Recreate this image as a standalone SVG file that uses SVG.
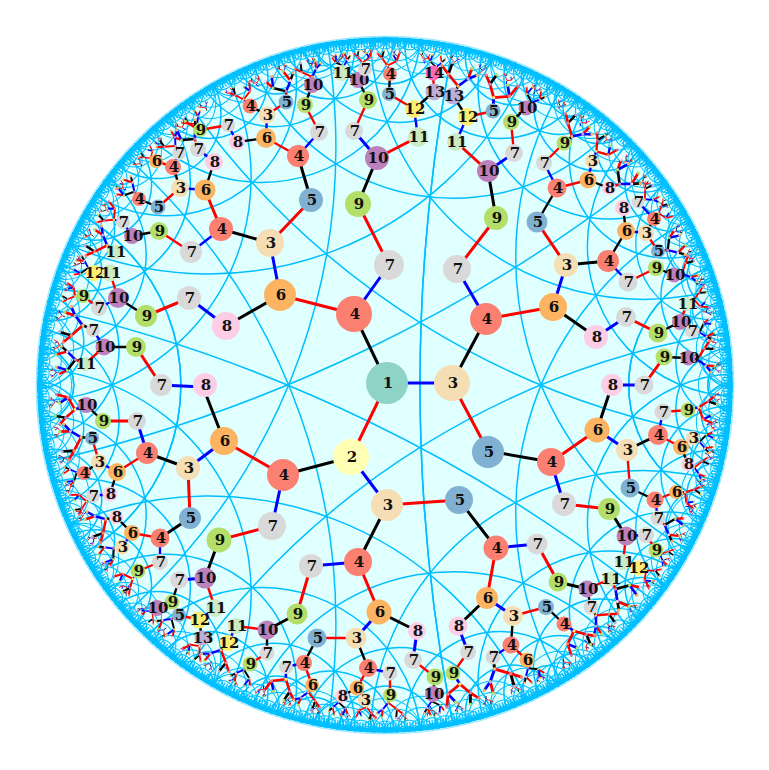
<svg xmlns="http://www.w3.org/2000/svg" width="769" height="770" viewBox="0 0 769 770">
<style>
.g{fill:none;stroke:#00bfff;stroke-width:1.5}
.fan{fill:none;stroke:#00bfff;stroke-width:1}
.k,.r,.b{fill:none;stroke-width:3}
.s{stroke-width:2.4}
.k{stroke:#000}.r{stroke:#f00}.b{stroke:#00f}
text{font-family:"DejaVu Serif","Liberation Serif",serif;font-weight:bold;font-size:15px;text-anchor:middle;fill:#111;transform:translate(1px,.5px)}
.c1{fill:#8dd3c7}.c2{fill:#ffffb3}.c3{fill:#f5deb3}.c4{fill:#fb8072}.c5{fill:#80b1d3}.c6{fill:#fdb462}.c7{fill:#d9d9d9}.c8{fill:#fccde5}.c9{fill:#b3de69}.c10{fill:#bc80bd}.c11{fill:#ccebc5}.c12{fill:#ffed6f}.c13{fill:#bcaed4}.c14{fill:#ff69b4}
.t{stroke-width:2;fill:none}
.d{stroke-linecap:round;stroke-width:2.4;fill:none}
</style>
<defs>
<clipPath id="disc"><circle r="348"/></clipPath>
<g id="blk4">
<circle cx="348.85" r="24.33"/>
<circle cx="348.2" r="12.15"/><circle cx="348.2" r="12.15" transform="rotate(2)"/>
<circle cx="348.05" r="6.07"/><circle cx="348.05" r="6.07" transform="rotate(1)"/><circle cx="348.05" r="6.07" transform="rotate(2)"/><circle cx="348.05" r="6.07" transform="rotate(3)"/>
</g>
<g id="blk12">
<circle cx="349.9" r="36.6"/><circle cx="349.9" r="36.6" transform="rotate(6)"/>
<use href="#blk4"/><use href="#blk4" transform="rotate(4)"/><use href="#blk4" transform="rotate(8)"/>
</g>
<g id="blk60"><use href="#blk12"/><use href="#blk12" transform="rotate(12)"/><use href="#blk12" transform="rotate(24)"/><use href="#blk12" transform="rotate(36)"/><use href="#blk12" transform="rotate(48)"/></g>
<g id="t1" transform="scale(.78)">
<path class="r t" d="M0 0L8 3M14-6L21-10M15 9L24 6"/>
<path class="k t" d="M8 3L14-6M15 9L20 13"/>
<path class="b t" d="M8 3L15 9M14-6L23-4"/>
<path class="d" stroke="#bc80bd" d="M8 3h0"/><path class="d" stroke="#b3de69" d="M14-6h0M24 6h0"/><path class="d" stroke="#fccde5" d="M15 9h0M21-10h0"/><path class="d" stroke="#fdb462" d="M23-4h0M20 13h0"/>
</g>
<g id="t2" transform="scale(.78)">
<path class="b t" d="M0 0L9-3M14 7L21 3"/>
<path class="r t" d="M9-3L17-9M9-3L14 7M17-9L22-14M14 7L23 10"/>
<path class="k t" d="M17-9L25-7"/>
<path class="d" stroke="#ffed6f" d="M9-3h0"/><path class="d" stroke="#bc80bd" d="M17-9h0M23 10h0"/><path class="d" stroke="#fb8072" d="M14 7h0M22-14h0"/><path class="d" stroke="#b3de69" d="M25-7h0M21 3h0"/>
</g>
<g id="t3" transform="scale(.78)">
<path class="k t" d="M0 0L8 2M15-7L24-6"/>
<path class="r t" d="M8 2L15-7M15 8L23 9M15-7L20-13"/>
<path class="b t" d="M8 2L15 8M15 8L19 14"/>
<path class="d" stroke="#fdb462" d="M8 2h0M19 14h0"/><path class="d" stroke="#fb8072" d="M15-7h0M20-13h0"/><path class="d" stroke="#bcaed4" d="M15 8h0M24-6h0"/><path class="d" stroke="#b3de69" d="M23 9h0"/>
</g>
<g id="t15"><use href="#t1" transform="translate(326 0) scale(.5)"/><use href="#t2" transform="rotate(5) translate(324 0) scale(.55)"/><use href="#t3" transform="rotate(10) translate(327 0) scale(.5)"/></g>
</defs>
<g transform="translate(385 385)" id="disc-group">
<circle r="349.5" fill="#e0ffff"/>
<g clip-path="url(#disc)">
<g id="geodesics-up" class="g">
<circle cx="1792" r="1757"/>
<circle cx="1547" r="1507" transform="rotate(-115.8)"/>
<circle cx="713" r="623" transform="rotate(-160.5)"/>
<circle cx="883.5" r="812" transform="rotate(-58.12)"/>
<circle cx="483" r="335" transform="rotate(-15.36)"/>
<circle cx="443" r="274" transform="rotate(-54.27)"/>
<circle cx="494" r="350.4" transform="rotate(-110.9)"/>
<circle cx="410" r="217.5" transform="rotate(-80.39)"/>
<circle cx="414" r="224.3" transform="rotate(-149.9)"/>
<circle cx="399" r="194.9" transform="rotate(-180)"/>
<circle cx="383" r="160" transform="rotate(-108.81)"/>
<circle cx="372" r="131" transform="rotate(-126.16)"/>
<circle cx="361.7" r="98.7" transform="rotate(-158.93)"/>
<circle cx="364.6" r="108.7" transform="rotate(-146.3)"/>
<circle cx="360" r="92.3" transform="rotate(-185.63)"/>
<circle cx="353.7" r="63.3" transform="rotate(-98.86)"/>
<circle cx="361.8" r="98.9" transform="rotate(-87.74)"/>
<circle cx="357.4" r="81.3" transform="rotate(-108.15)"/>
<circle cx="353.8" r="64" transform="rotate(-130.14)"/>
<circle cx="353" r="59.1" transform="rotate(-119.95)"/>
<circle cx="351.5" r="49.3" transform="rotate(-161.14)"/>
<circle cx="350.7" r="43.5" transform="rotate(-153.54)"/>
<circle cx="352.5" r="56.1" transform="rotate(-145.24)"/>
<circle cx="351.2" r="47.2" transform="rotate(-172.86)"/>
<circle cx="350.2" r="39" transform="rotate(-180)"/>
<circle cx="351.7" r="50.6" transform="rotate(-89.51)"/>
<circle cx="349.4" r="31" transform="rotate(-96.75)"/>
<circle cx="349.3" r="29.5" transform="rotate(-101.8)"/>
<circle cx="350.6" r="42.4" transform="rotate(-107.95)"/>
<circle cx="379" r="150.2" transform="rotate(-21.52)"/>
<circle cx="370" r="126.3"/>
<circle cx="371.8" r="130.8" transform="rotate(-52.98)"/>
<circle cx="361.7" r="98.5" transform="rotate(-38.55)"/>
<circle cx="354.4" r="67.1" transform="rotate(-14.45)"/>
<circle cx="356.2" r="76" transform="rotate(-23.39)"/>
<circle cx="353.4" r="61.7" transform="rotate(3.83)"/>
<circle cx="354.5" r="67.3" transform="rotate(-52.5)"/>
<circle cx="352.4" r="55.5" transform="rotate(-60.32)"/>
<circle cx="360.9" r="95.5" transform="rotate(-71.38)"/>
<circle cx="351.2" r="47.7" transform="rotate(-34.98)"/>
<circle cx="351" r="45.9" transform="rotate(-42.8)"/>
<circle cx="349.6" r="33.6" transform="rotate(-12.81)"/>
<circle cx="349.3" r="30.1" transform="rotate(-18.06)"/>
<circle cx="350.2" r="39.5" transform="rotate(-23.96)"/>
<circle cx="349.5" r="31.9" transform="rotate(-4.83)"/>
<circle cx="349" r="26.3"/>
<circle cx="351.2" r="47" transform="rotate(-68.7)"/>
<circle cx="349" r="27.5" transform="rotate(-62)"/>
<circle cx="349" r="25.4" transform="rotate(-57.52)"/>
<circle cx="349.8" r="35.6" transform="rotate(-52.36)"/>
</g>
<use href="#geodesics-up" transform="scale(1 -1)"/>
<g id="rim-fan" class="fan">
<use href="#blk60"/><use href="#blk60" transform="rotate(60)"/><use href="#blk60" transform="rotate(120)"/><use href="#blk60" transform="rotate(180)"/><use href="#blk60" transform="rotate(240)"/><use href="#blk60" transform="rotate(300)"/>
</g>
<circle r="341" fill="none" stroke="#00bfff" stroke-width="6" stroke-dasharray="1.2 1.6"/>
<circle r="345.5" fill="none" stroke="#00bfff" stroke-width="5"/>
</g>
<circle r="348.7" fill="none" stroke="#9fe6ff" stroke-width="1.2"/>
<g id="rim-trees-fine">
<use href="#t15" transform="rotate(2)"/><use href="#t15" transform="rotate(17)"/><use href="#t15" transform="rotate(32)"/><use href="#t15" transform="rotate(47)"/><use href="#t15" transform="rotate(62)"/><use href="#t15" transform="rotate(77)"/><use href="#t15" transform="rotate(92)"/><use href="#t15" transform="rotate(107)"/><use href="#t15" transform="rotate(122)"/><use href="#t15" transform="rotate(137)"/><use href="#t15" transform="rotate(152)"/><use href="#t15" transform="rotate(167)"/><use href="#t15" transform="rotate(182)"/><use href="#t15" transform="rotate(197)"/><use href="#t15" transform="rotate(212)"/><use href="#t15" transform="rotate(227)"/><use href="#t15" transform="rotate(242)"/><use href="#t15" transform="rotate(257)"/><use href="#t15" transform="rotate(272)"/><use href="#t15" transform="rotate(287)"/><use href="#t15" transform="rotate(302)"/><use href="#t15" transform="rotate(317)"/><use href="#t15" transform="rotate(332)"/><use href="#t15" transform="rotate(347)"/>
</g>
</g>
<g id="leaf-trees">
<use href="#t1" transform="translate(342 73) rotate(-97.8) scale(1.04)"/>
<use href="#t2" transform="translate(365 69) rotate(-93.6) scale(.96)"/>
<use href="#t3" transform="translate(312 85) rotate(-103.7) scale(1.27)"/>
<use href="#t1" transform="translate(286 102) rotate(-109.3) scale(1.6)"/>
<use href="#t2" transform="translate(250 106) rotate(-115.8) scale(1.23)"/>
<use href="#t3" transform="translate(200 130) rotate(-126) scale(1.04)"/>
<use href="#t1" transform="translate(198 149) rotate(-128.4) scale(1.58)"/>
<use href="#t3" transform="translate(179 153) rotate(-131.6) scale(1.23)"/>
<use href="#t2" transform="translate(156 161) rotate(-135.6) scale(.85)"/>
<use href="#t1" transform="translate(139 199) rotate(-142.9) scale(1.3)"/>
<use href="#t2" transform="translate(123 222) rotate(-148) scale(1.27)"/>
<use href="#t3" transform="translate(115 252) rotate(-153.8) scale(1.58)"/>
<use href="#t1" transform="translate(94 273) rotate(-159) scale(1.15)"/>
<use href="#t2" transform="translate(83 296) rotate(-163.6) scale(1.04)"/>
<use href="#t3" transform="translate(93 330) rotate(-169.3) scale(1.73)"/>
<use href="#t1" transform="translate(85 364) rotate(-176) scale(1.58)"/>
<use href="#t2" transform="translate(86 405) rotate(176) scale(1.6)"/>
<use href="#t3" transform="translate(92 438) rotate(169.7) scale(1.7)"/>
<use href="#t1" transform="translate(84 473) rotate(163.7) scale(1.08)"/>
<use href="#t2" transform="translate(93 496) rotate(159) scale(1.15)"/>
<use href="#t3" transform="translate(116 517) rotate(153.9) scale(1.6)"/>
<use href="#t1" transform="translate(122 547) rotate(148.4) scale(1.27)"/>
<use href="#t2" transform="translate(138 571) rotate(143) scale(1.27)"/>
<use href="#t3" transform="translate(157 608) rotate(135.6) scale(.88)"/>
<use href="#t1" transform="translate(179 615) rotate(131.8) scale(1.27)"/>
<use href="#t2" transform="translate(202 638) rotate(125.9) scale(1.15)"/>
<use href="#t3" transform="translate(228 643) rotate(121.3) scale(1.54)"/>
<use href="#t1" transform="translate(250 664) rotate(115.8) scale(1.23)"/>
<use href="#t2" transform="translate(286 667) rotate(109.3) scale(1.65)"/>
<use href="#t3" transform="translate(312 685) rotate(103.7) scale(1.27)"/>
<use href="#t1" transform="translate(342 696) rotate(97.9) scale(1.08)"/>
<use href="#t2" transform="translate(365 700) rotate(93.6) scale(1)"/>
<use href="#t3" transform="translate(390 695) rotate(89) scale(1.23)"/>
<use href="#t1" transform="translate(433 694) rotate(81.2) scale(1.12)"/>
<use href="#t2" transform="translate(453 673) rotate(76.7) scale(1.77)"/>
<use href="#t3" transform="translate(493 657) rotate(68.3) scale(1.88)"/>
<use href="#t1" transform="translate(527 660) rotate(62.7) scale(1.23)"/>
<use href="#t2" transform="translate(564 624) rotate(53.2) scale(1.65)"/>
<use href="#t3" transform="translate(591 607) rotate(47.1) scale(1.5)"/>
<use href="#t1" transform="translate(610 579) rotate(40.8) scale(1.73)"/>
<use href="#t2" transform="translate(638 568) rotate(35.9) scale(1.15)"/>
<use href="#t3" transform="translate(656 550) rotate(31.3) scale(.96)"/>
<use href="#t1" transform="translate(658 518) rotate(26) scale(1.46)"/>
<use href="#t2" transform="translate(676 492) rotate(20.2) scale(1.23)"/>
<use href="#t3" transform="translate(688 464) rotate(14.6) scale(1.12)"/>
<use href="#t1" transform="translate(693 438) rotate(9.8) scale(1.15)"/>
<use href="#t2" transform="translate(688 410) rotate(4.7) scale(1.46)"/>
<use href="#t3" transform="translate(688 358) rotate(-5.1) scale(1.46)"/>
<use href="#t1" transform="translate(692 331) rotate(-10) scale(1.15)"/>
<use href="#t2" transform="translate(687 304) rotate(-15) scale(1.12)"/>
<use href="#t3" transform="translate(674 275) rotate(-20.8) scale(1.27)"/>
<use href="#t1" transform="translate(658 251) rotate(-26.1) scale(1.46)"/>
<use href="#t2" transform="translate(654 219) rotate(-31.7) scale(1)"/>
<use href="#t3" transform="translate(638 202) rotate(-35.9) scale(1.15)"/>
<use href="#t1" transform="translate(609 188) rotate(-41.3) scale(1.7)"/>
<use href="#t2" transform="translate(592 161) rotate(-47.3) scale(1.42)"/>
<use href="#t3" transform="translate(564 143) rotate(-53.5) scale(1.58)"/>
<use href="#t1" transform="translate(526 108) rotate(-63) scale(1.19)"/>
<use href="#t2" transform="translate(493 111) rotate(-68.5) scale(1.8)"/>
<use href="#t3" transform="translate(453 96) rotate(-76.8) scale(1.73)"/>
<use href="#t1" transform="translate(433 73) rotate(-81.3) scale(1)"/>
<use href="#t2" transform="translate(390 74) rotate(-89) scale(1.19)"/>
</g>
<g id="connectors">
<path class="k" d="M387 383L354 314M452 383L486 319M488 451L551 462M351 457L283 475M280 295L226 326M358 204L377 158M496 218L488 171M553 307L596 337M270 243L221 229M311 200L298 156M566 265L608 261M597 430L612 385M496 548L459 500M487 598L458 626M358 562L387 505M224 441L203 387M188 468L147 453M219 540L205 578M379 612L417 631M297 614L267 630M609 509L626 536M558 582L587 589M627 450L658 435M190 518L160 538"/>
<path class="r" d="M387 383L351 457M354 314L280 295M389 265L358 204M189 298L146 316M452 383L488 451M486 319L553 307M457 269L496 218M270 243L311 200M551 462L597 430M224 441L283 475M387 505L459 500M358 562L379 612M272 526L219 540M311 566L297 614M496 548L487 598M537 544L558 582M564 504L609 509M137 421L103 421M161 385L136 347M188 468L190 518M221 229L205 190M377 158L418 137M488 171L456 142M566 265L537 222M626 317L658 333M644 385L664 357"/>
<path class="b" d="M387 383L452 383M354 314L389 265M280 295L270 243M226 326L189 298M486 319L457 269M553 307L566 265M596 337L626 317M351 457L387 505M283 475L272 526M224 441L188 468M203 387L161 385M551 462L564 504M597 430L627 450M612 385L644 385M496 548L537 544M487 598L513 616M358 562L311 566M379 612L356 638M147 453L137 421M458 626L468 652M417 631L413 660M377 158L354 131M488 171L514 153M205 578L179 580"/>
<path class="k s" d="M146 316L118 298M266 138L237 142M205 190L214 162M159 231L132 236M267 115L250 106M180 188L173 167M158 207L139 199M305 105L312 85M368 100L358 80M389 94L390 74M414 109L434 92M467 117L453 96M511 122L526 108M537 222L557 188M588 180L609 188M626 231L623 208M646 233L654 219M656 268L674 275M658 333L680 322M664 357L688 358M681 447L688 464M630 488L655 500M587 589L591 607M513 616L511 645M546 607L564 624M267 630L267 653M356 638L368 668M317 638L304 663M357 688L342 696M435 677L433 694M136 347L104 347M103 421L86 405M117 472L110 494M99 462L84 473M132 533L116 517M179 580L172 602M172 602L157 608M199 620L202 638M638 568L623 562M608 261L626 231"/>
<path class="r s" d="M298 156L266 138M319 132L305 105M354 131L368 100M358 80L342 73M228 125L200 130M191 252L159 231M118 298L110 273M99 308L83 296M173 167L156 161M180 188L158 207M267 115L286 102M414 109L389 94M434 92L433 73M467 117L493 111M514 153L511 122M544 163L564 143M557 188L588 180M628 282L656 268M646 233L658 251M680 322L687 304M626 536L623 562M646 535L656 550M587 589L610 579M513 616L546 607M511 645L527 660M468 652L453 673M413 660L435 677M356 638L317 638M368 668L357 688M390 673L390 695M304 663L312 685M267 630L236 626M267 653L250 664M205 578L215 608M179 615L199 620M99 462L92 438M117 472L147 453M160 538L132 533M160 562L138 571M627 450L630 488M655 500L676 492M663 412L688 410M658 435L681 447M104 347L85 364"/>
<path class="b s" d="M298 156L319 132M266 138L267 115M237 142L228 125M221 229L191 252M205 190L180 188M214 162L198 149M132 236L123 222M118 298L99 308M173 167L179 153M557 188L544 163M592 161L588 180M608 261L628 282M654 219L638 202M626 231L646 233M456 142L467 117M418 137L414 109M663 412L658 435M655 500L658 518M693 438L681 447M626 536L646 535M511 645L493 657M368 668L390 673M357 688L365 700M304 663L286 667M215 608L199 620M228 643L236 626M117 472L99 462M93 496L110 494M132 533L122 547M160 538L160 562M104 347L93 330"/>
</g>
<g id="nodes">
<g id="a1"><circle class="c1" cx="387" cy="383" r="21"/><text x="387" y="387">1</text></g>
<g id="a2"><circle class="c3" cx="452" cy="383" r="18"/><text x="452" y="387">3</text></g>
<g id="a3"><circle class="c2" cx="351" cy="457" r="18"/><text x="351" y="461">2</text></g>
<g id="a4"><circle class="c4" cx="354" cy="314" r="18"/><text x="354" y="318">4</text></g>
<g id="a5"><circle class="c7" cx="389" cy="265" r="15"/><text x="389" y="269">7</text></g>
<g id="a6"><circle class="c9" cx="358" cy="204" r="13"/><text x="358" y="208">9</text></g>
<g id="a7"><circle class="c10" cx="377" cy="158" r="12"/><text x="377" y="162">10</text></g>
<g id="a8"><circle class="c7" cx="354" cy="131" r="9"/><text x="354" y="135">7</text></g>
<g id="a9"><circle class="c9" cx="368" cy="100" r="9"/><text x="368" y="104">9</text></g>
<g id="a10"><circle class="c10" cx="358" cy="80" r="8"/><text x="358" y="84">10</text></g>
<g id="a11"><circle class="c11" cx="342" cy="73" r="8"/><text x="342" y="77">11</text></g>
<g id="a12"><circle class="c7" cx="365" cy="69" r="7"/><text x="365" y="73">7</text></g>
<g id="a13"><circle class="c11" cx="418" cy="137" r="10"/><text x="418" y="141">11</text></g>
<g id="a14"><circle class="c12" cx="414" cy="109" r="9"/><text x="414" y="113">12</text></g>
<g id="a15"><circle class="c5" cx="389" cy="94" r="7"/><text x="389" y="98">5</text></g>
<g id="a16"><circle class="c4" cx="390" cy="74" r="7"/><text x="390" y="78">4</text></g>
<g id="a17"><circle class="c13" cx="434" cy="92" r="8.5"/><text x="434" y="96">13</text></g>
<g id="a18"><circle class="c14" cx="433" cy="73" r="7.5"/><text x="433" y="77">14</text></g>
<g id="a19"><circle class="c6" cx="280" cy="295" r="16"/><text x="280" y="299">6</text></g>
<g id="a20"><circle class="c8" cx="226" cy="326" r="14"/><text x="226" y="330">8</text></g>
<g id="a21"><circle class="c7" cx="189" cy="298" r="12"/><text x="189" y="302">7</text></g>
<g id="a22"><circle class="c9" cx="146" cy="316" r="11"/><text x="146" y="320">9</text></g>
<g id="a23"><circle class="c10" cx="118" cy="298" r="10"/><text x="118" y="302">10</text></g>
<g id="a24"><circle class="c12" cx="94" cy="273" r="8"/><text x="94" y="277">12</text></g>
<g id="a25"><circle class="c11" cx="110" cy="273" r="8.5"/><text x="110" y="277">11</text></g>
<g id="a26"><circle class="c7" cx="99" cy="308" r="8"/><text x="99" y="312">7</text></g>
<g id="a27"><circle class="c9" cx="83" cy="296" r="7"/><text x="83" y="300">9</text></g>
<g id="a28"><circle class="c3" cx="270" cy="243" r="14"/><text x="270" y="247">3</text></g>
<g id="a29"><circle class="c5" cx="311" cy="200" r="12"/><text x="311" y="204">5</text></g>
<g id="a30"><circle class="c4" cx="298" cy="156" r="11"/><text x="298" y="160">4</text></g>
<g id="a31"><circle class="c7" cx="319" cy="132" r="9"/><text x="319" y="136">7</text></g>
<g id="a32"><circle class="c9" cx="305" cy="105" r="8"/><text x="305" y="109">9</text></g>
<g id="a33"><circle class="c10" cx="312" cy="85" r="8"/><text x="312" y="89">10</text></g>
<g id="a34"><circle class="c4" cx="221" cy="229" r="12"/><text x="221" y="233">4</text></g>
<g id="a35"><circle class="c6" cx="205" cy="190" r="10.5"/><text x="205" y="194">6</text></g>
<g id="a36"><circle class="c8" cx="214" cy="162" r="9"/><text x="214" y="166">8</text></g>
<g id="a37"><circle class="c3" cx="180" cy="188" r="9"/><text x="180" y="192">3</text></g>
<g id="a38"><circle class="c4" cx="173" cy="167" r="8"/><text x="173" y="171">4</text></g>
<g id="a39"><circle class="c7" cx="179" cy="153" r="7"/><text x="179" y="157">7</text></g>
<g id="a40"><circle class="c6" cx="156" cy="161" r="7"/><text x="156" y="165">6</text></g>
<g id="a41"><circle class="c5" cx="158" cy="207" r="7.5"/><text x="158" y="211">5</text></g>
<g id="a42"><circle class="c4" cx="139" cy="199" r="7"/><text x="139" y="203">4</text></g>
<g id="a43"><circle class="c7" cx="123" cy="222" r="7"/><text x="123" y="226">7</text></g>
<g id="a44"><circle class="c10" cx="132" cy="236" r="8"/><text x="132" y="240">10</text></g>
<g id="a45"><circle class="c9" cx="159" cy="231" r="9"/><text x="159" y="235">9</text></g>
<g id="a46"><circle class="c7" cx="191" cy="252" r="11"/><text x="191" y="256">7</text></g>
<g id="a47"><circle class="c11" cx="115" cy="252" r="7.5"/><text x="115" y="256">11</text></g>
<g id="a48"><circle class="c6" cx="266" cy="138" r="10"/><text x="266" y="142">6</text></g>
<g id="a49"><circle class="c8" cx="237" cy="142" r="8"/><text x="237" y="146">8</text></g>
<g id="a50"><circle class="c3" cx="267" cy="115" r="8.5"/><text x="267" y="119">3</text></g>
<g id="a51"><circle class="c4" cx="250" cy="106" r="7.5"/><text x="250" y="110">4</text></g>
<g id="a52"><circle class="c5" cx="286" cy="102" r="7.5"/><text x="286" y="106">5</text></g>
<g id="a53"><circle class="c7" cx="228" cy="125" r="7"/><text x="228" y="129">7</text></g>
<g id="a54"><circle class="c9" cx="200" cy="130" r="7"/><text x="200" y="134">9</text></g>
<g id="a55"><circle class="c7" cx="198" cy="149" r="8"/><text x="198" y="153">7</text></g>
<g id="a56"><circle class="c8" cx="205" cy="385" r="12"/><text x="205" y="389">8</text></g>
<g id="a57"><circle class="c7" cx="161" cy="385" r="11"/><text x="161" y="389">7</text></g>
<g id="a58"><circle class="c9" cx="136" cy="347" r="10"/><text x="136" y="351">9</text></g>
<g id="a59"><circle class="c10" cx="104" cy="347" r="8.5"/><text x="104" y="351">10</text></g>
<g id="a60"><circle class="c7" cx="93" cy="330" r="7"/><text x="93" y="334">7</text></g>
<g id="a61"><circle class="c11" cx="85" cy="364" r="7"/><text x="85" y="368">11</text></g>
<g id="b1"><circle class="c4" cx="486" cy="319" r="16"/><text x="486" y="323">4</text></g>
<g id="b2"><circle class="c7" cx="457" cy="269" r="14"/><text x="457" y="273">7</text></g>
<g id="b3"><circle class="c9" cx="496" cy="218" r="12"/><text x="496" y="222">9</text></g>
<g id="b4"><circle class="c10" cx="488" cy="171" r="11"/><text x="488" y="175">10</text></g>
<g id="b5"><circle class="c7" cx="514" cy="153" r="9"/><text x="514" y="157">7</text></g>
<g id="b6"><circle class="c11" cx="456" cy="142" r="9"/><text x="456" y="146">11</text></g>
<g id="b7"><circle class="c12" cx="467" cy="117" r="9"/><text x="467" y="121">12</text></g>
<g id="b8"><circle class="c13" cx="453" cy="96" r="8.5"/><text x="453" y="100">13</text></g>
<g id="b9"><circle class="c5" cx="493" cy="111" r="7.5"/><text x="493" y="115">5</text></g>
<g id="b10"><circle class="c9" cx="511" cy="122" r="8"/><text x="511" y="126">9</text></g>
<g id="b11"><circle class="c10" cx="526" cy="108" r="7.5"/><text x="526" y="112">10</text></g>
<g id="b12"><circle class="c6" cx="553" cy="307" r="14"/><text x="553" y="311">6</text></g>
<g id="b13"><circle class="c3" cx="566" cy="265" r="12"/><text x="566" y="269">3</text></g>
<g id="b14"><circle class="c5" cx="537" cy="222" r="10.5"/><text x="537" y="226">5</text></g>
<g id="b15"><circle class="c4" cx="608" cy="261" r="11"/><text x="608" y="265">4</text></g>
<g id="b16"><circle class="c8" cx="596" cy="337" r="12"/><text x="596" y="341">8</text></g>
<g id="b17"><circle class="c7" cx="626" cy="317" r="10"/><text x="626" y="321">7</text></g>
<g id="b18"><circle class="c9" cx="658" cy="333" r="9.5"/><text x="658" y="337">9</text></g>
<g id="b19"><circle class="c10" cx="680" cy="322" r="8"/><text x="680" y="326">10</text></g>
<g id="b20"><circle class="c7" cx="692" cy="331" r="7"/><text x="692" y="335">7</text></g>
<g id="b21"><circle class="c11" cx="687" cy="304" r="7"/><text x="687" y="308">11</text></g>
<g id="b22"><circle class="c4" cx="557" cy="188" r="9.5"/><text x="557" y="192">4</text></g>
<g id="b23"><circle class="c7" cx="544" cy="163" r="8"/><text x="544" y="167">7</text></g>
<g id="b24"><circle class="c9" cx="564" cy="143" r="7.5"/><text x="564" y="147">9</text></g>
<g id="b25"><circle class="c6" cx="588" cy="180" r="8.5"/><text x="588" y="184">6</text></g>
<g id="b26"><circle class="c3" cx="592" cy="161" r="7"/><text x="592" y="165">3</text></g>
<g id="b27"><circle class="c8" cx="609" cy="188" r="7"/><text x="609" y="192">8</text></g>
<g id="b28"><circle class="c6" cx="626" cy="231" r="9"/><text x="626" y="235">6</text></g>
<g id="b29"><circle class="c8" cx="623" cy="208" r="8"/><text x="623" y="212">8</text></g>
<g id="b30"><circle class="c3" cx="646" cy="233" r="8"/><text x="646" y="237">3</text></g>
<g id="b31"><circle class="c4" cx="654" cy="219" r="7"/><text x="654" y="223">4</text></g>
<g id="b32"><circle class="c7" cx="638" cy="202" r="6.5"/><text x="638" y="206">7</text></g>
<g id="b33"><circle class="c5" cx="658" cy="251" r="7"/><text x="658" y="255">5</text></g>
<g id="b34"><circle class="c7" cx="628" cy="282" r="9.5"/><text x="628" y="286">7</text></g>
<g id="b35"><circle class="c9" cx="656" cy="268" r="8"/><text x="656" y="272">9</text></g>
<g id="b36"><circle class="c10" cx="674" cy="275" r="7.5"/><text x="674" y="279">10</text></g>
<g id="b37"><circle class="c8" cx="612" cy="385" r="11"/><text x="612" y="389">8</text></g>
<g id="b38"><circle class="c7" cx="644" cy="385" r="9.5"/><text x="644" y="389">7</text></g>
<g id="b39"><circle class="c9" cx="664" cy="357" r="8.5"/><text x="664" y="361">9</text></g>
<g id="b40"><circle class="c10" cx="688" cy="358" r="7.5"/><text x="688" y="362">10</text></g>
<g id="c1"><circle class="c5" cx="488" cy="452" r="16"/><text x="488" y="456">5</text></g>
<g id="c2"><circle class="c4" cx="551" cy="462" r="14"/><text x="551" y="466">4</text></g>
<g id="c3"><circle class="c6" cx="597" cy="430" r="12.5"/><text x="597" y="434">6</text></g>
<g id="c4"><circle class="c3" cx="627" cy="450" r="11"/><text x="627" y="454">3</text></g>
<g id="c5"><circle class="c5" cx="630" cy="488" r="9.5"/><text x="630" y="492">5</text></g>
<g id="c6"><circle class="c4" cx="658" cy="435" r="10"/><text x="658" y="439">4</text></g>
<g id="c7"><circle class="c7" cx="663" cy="412" r="8.5"/><text x="663" y="416">7</text></g>
<g id="c8"><circle class="c9" cx="688" cy="410" r="7.5"/><text x="688" y="414">9</text></g>
<g id="c9"><circle class="c6" cx="681" cy="447" r="8"/><text x="681" y="451">6</text></g>
<g id="c10"><circle class="c3" cx="693" cy="438" r="7"/><text x="693" y="442">3</text></g>
<g id="c11"><circle class="c8" cx="688" cy="464" r="7"/><text x="688" y="468">8</text></g>
<g id="c12"><circle class="c4" cx="655" cy="500" r="8.5"/><text x="655" y="504">4</text></g>
<g id="c13"><circle class="c6" cx="676" cy="492" r="7"/><text x="676" y="496">6</text></g>
<g id="c14"><circle class="c7" cx="658" cy="518" r="7.5"/><text x="658" y="522">7</text></g>
<g id="c15"><circle class="c7" cx="564" cy="504" r="12"/><text x="564" y="508">7</text></g>
<g id="c16"><circle class="c9" cx="609" cy="509" r="11"/><text x="609" y="513">9</text></g>
<g id="c17"><circle class="c10" cx="626" cy="536" r="9.5"/><text x="626" y="540">10</text></g>
<g id="c18"><circle class="c7" cx="646" cy="535" r="8"/><text x="646" y="539">7</text></g>
<g id="c19"><circle class="c9" cx="656" cy="550" r="7.5"/><text x="656" y="554">9</text></g>
<g id="c20"><circle class="c11" cx="623" cy="562" r="8"/><text x="623" y="566">11</text></g>
<g id="c21"><circle class="c12" cx="638" cy="568" r="7.5"/><text x="638" y="572">12</text></g>
<g id="d1"><circle class="c3" cx="387" cy="505" r="16"/><text x="387" y="509">3</text></g>
<g id="d2"><circle class="c5" cx="459" cy="500" r="14"/><text x="459" y="504">5</text></g>
<g id="d3"><circle class="c4" cx="496" cy="548" r="12.5"/><text x="496" y="552">4</text></g>
<g id="d4"><circle class="c7" cx="537" cy="544" r="10.5"/><text x="537" y="548">7</text></g>
<g id="d5"><circle class="c9" cx="558" cy="582" r="9.5"/><text x="558" y="586">9</text></g>
<g id="d6"><circle class="c10" cx="587" cy="589" r="8.5"/><text x="587" y="593">10</text></g>
<g id="d7"><circle class="c11" cx="610" cy="579" r="7.5"/><text x="610" y="583">11</text></g>
<g id="d8"><circle class="c7" cx="591" cy="607" r="7.5"/><text x="591" y="611">7</text></g>
<g id="d9"><circle class="c6" cx="487" cy="598" r="11"/><text x="487" y="602">6</text></g>
<g id="d10"><circle class="c8" cx="458" cy="626" r="9.5"/><text x="458" y="630">8</text></g>
<g id="d11"><circle class="c7" cx="468" cy="652" r="8"/><text x="468" y="656">7</text></g>
<g id="d12"><circle class="c9" cx="453" cy="673" r="7.5"/><text x="453" y="677">9</text></g>
<g id="d13"><circle class="c3" cx="513" cy="616" r="10"/><text x="513" y="620">3</text></g>
<g id="d14"><circle class="c5" cx="546" cy="607" r="8"/><text x="546" y="611">5</text></g>
<g id="d15"><circle class="c4" cx="564" cy="624" r="7.5"/><text x="564" y="628">4</text></g>
<g id="d16"><circle class="c4" cx="511" cy="645" r="8.5"/><text x="511" y="649">4</text></g>
<g id="d17"><circle class="c6" cx="527" cy="660" r="7.5"/><text x="527" y="664">6</text></g>
<g id="d18"><circle class="c7" cx="493" cy="657" r="7.5"/><text x="493" y="661">7</text></g>
<g id="e1"><circle class="c4" cx="358" cy="562" r="14"/><text x="358" y="566">4</text></g>
<g id="e2"><circle class="c7" cx="311" cy="566" r="12"/><text x="311" y="570">7</text></g>
<g id="e3"><circle class="c9" cx="297" cy="614" r="10.5"/><text x="297" y="618">9</text></g>
<g id="e4"><circle class="c10" cx="267" cy="630" r="9.5"/><text x="267" y="634">10</text></g>
<g id="e5"><circle class="c11" cx="236" cy="626" r="8"/><text x="236" y="630">11</text></g>
<g id="e6"><circle class="c12" cx="228" cy="643" r="8"/><text x="228" y="647">12</text></g>
<g id="e7"><circle class="c7" cx="267" cy="653" r="7.5"/><text x="267" y="657">7</text></g>
<g id="e8"><circle class="c9" cx="250" cy="664" r="7.5"/><text x="250" y="668">9</text></g>
<g id="e9"><circle class="c6" cx="379" cy="612" r="12.5"/><text x="379" y="616">6</text></g>
<g id="e10"><circle class="c8" cx="417" cy="631" r="9"/><text x="417" y="635">8</text></g>
<g id="e11"><circle class="c7" cx="413" cy="660" r="9"/><text x="413" y="664">7</text></g>
<g id="e12"><circle class="c9" cx="435" cy="677" r="8.5"/><text x="435" y="681">9</text></g>
<g id="e13"><circle class="c10" cx="433" cy="694" r="8"/><text x="433" y="698">10</text></g>
<g id="e14"><circle class="c3" cx="356" cy="638" r="10.5"/><text x="356" y="642">3</text></g>
<g id="e15"><circle class="c5" cx="317" cy="638" r="9.5"/><text x="317" y="642">5</text></g>
<g id="e16"><circle class="c4" cx="304" cy="663" r="8"/><text x="304" y="667">4</text></g>
<g id="e17"><circle class="c7" cx="286" cy="667" r="7"/><text x="286" y="671">7</text></g>
<g id="e18"><circle class="c6" cx="312" cy="685" r="7"/><text x="312" y="689">6</text></g>
<g id="e19"><circle class="c4" cx="368" cy="668" r="9"/><text x="368" y="672">4</text></g>
<g id="e20"><circle class="c7" cx="390" cy="673" r="7.5"/><text x="390" y="677">7</text></g>
<g id="e21"><circle class="c9" cx="390" cy="695" r="7"/><text x="390" y="699">9</text></g>
<g id="e22"><circle class="c6" cx="357" cy="688" r="7.5"/><text x="357" y="692">6</text></g>
<g id="e23"><circle class="c3" cx="365" cy="700" r="7"/><text x="365" y="704">3</text></g>
<g id="e24"><circle class="c8" cx="342" cy="696" r="7"/><text x="342" y="700">8</text></g>
<g id="f1"><circle class="c4" cx="283" cy="475" r="16"/><text x="283" y="479">4</text></g>
<g id="f2"><circle class="c6" cx="224" cy="441" r="14"/><text x="224" y="445">6</text></g>
<g id="f3"><circle class="c3" cx="188" cy="468" r="12"/><text x="188" y="472">3</text></g>
<g id="f4"><circle class="c4" cx="147" cy="453" r="11"/><text x="147" y="457">4</text></g>
<g id="f5"><circle class="c7" cx="137" cy="421" r="9"/><text x="137" y="425">7</text></g>
<g id="f6"><circle class="c9" cx="103" cy="421" r="8"/><text x="103" y="425">9</text></g>
<g id="f7"><circle class="c10" cx="86" cy="405" r="8"/><text x="86" y="409">10</text></g>
<g id="f8"><circle class="c6" cx="117" cy="472" r="9"/><text x="117" y="476">6</text></g>
<g id="f9"><circle class="c8" cx="110" cy="494" r="7.5"/><text x="110" y="498">8</text></g>
<g id="f10"><circle class="c7" cx="93" cy="496" r="7"/><text x="93" y="500">7</text></g>
<g id="f11"><circle class="c3" cx="99" cy="462" r="8"/><text x="99" y="466">3</text></g>
<g id="f12"><circle class="c5" cx="92" cy="438" r="7"/><text x="92" y="442">5</text></g>
<g id="f13"><circle class="c4" cx="84" cy="473" r="7"/><text x="84" y="477">4</text></g>
<g id="f14"><circle class="c5" cx="190" cy="518" r="11"/><text x="190" y="522">5</text></g>
<g id="f15"><circle class="c4" cx="160" cy="538" r="9.5"/><text x="160" y="542">4</text></g>
<g id="f16"><circle class="c6" cx="132" cy="533" r="8"/><text x="132" y="537">6</text></g>
<g id="f17"><circle class="c8" cx="116" cy="517" r="7"/><text x="116" y="521">8</text></g>
<g id="f18"><circle class="c3" cx="122" cy="547" r="7.5"/><text x="122" y="551">3</text></g>
<g id="f19"><circle class="c7" cx="160" cy="562" r="8"/><text x="160" y="566">7</text></g>
<g id="f20"><circle class="c9" cx="138" cy="571" r="7.5"/><text x="138" y="575">9</text></g>
<g id="f21"><circle class="c7" cx="272" cy="526" r="14"/><text x="272" y="530">7</text></g>
<g id="f22"><circle class="c9" cx="219" cy="540" r="12.5"/><text x="219" y="544">9</text></g>
<g id="f23"><circle class="c10" cx="205" cy="578" r="10.5"/><text x="205" y="582">10</text></g>
<g id="f24"><circle class="c7" cx="179" cy="580" r="9"/><text x="179" y="584">7</text></g>
<g id="f25"><circle class="c9" cx="172" cy="602" r="7.5"/><text x="172" y="606">9</text></g>
<g id="f26"><circle class="c10" cx="157" cy="608" r="8"/><text x="157" y="612">10</text></g>
<g id="f27"><circle class="c11" cx="215" cy="608" r="9"/><text x="215" y="612">11</text></g>
<g id="f28"><circle class="c12" cx="199" cy="620" r="8.5"/><text x="199" y="624">12</text></g>
<g id="f29"><circle class="c5" cx="179" cy="615" r="7"/><text x="179" y="619">5</text></g>
<g id="f30"><circle class="c13" cx="202" cy="638" r="7.5"/><text x="202" y="642">13</text></g>
</g>
</svg>
